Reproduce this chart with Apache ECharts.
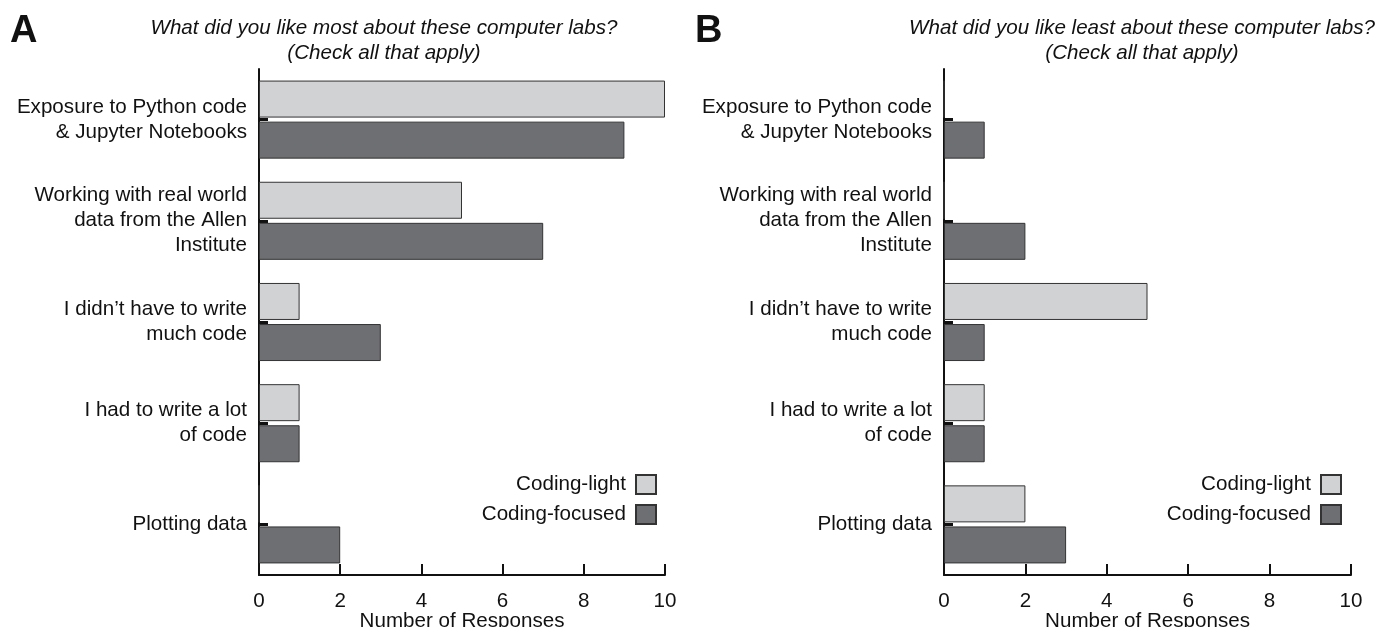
<!DOCTYPE html>
<html>
<head>
<meta charset="utf-8">
<script src="https://cdn.jsdelivr.net/npm/echarts@6/dist/echarts.min.js"></script>
<style>
html,body{margin:0;padding:0;background:#fff;}
#c{width:1379px;height:627px;}
</style>
</head>
<body>
<div id="c"></div>
<script>
var categories = [
  'Exposure to Python code\n& Jupyter Notebooks',
  'Working with real world\ndata from the Allen\nInstitute',
  'I didn\u2019t have to write\nmuch code',
  'I had to write a lot\nof code',
  'Plotting data'
];
var seriesNames = ['Coding-light', 'Coding-focused'];
var likedMostLight = [10, 5, 1, 1, 0];
var likedMostFocused = [9, 7, 3, 1, 2];
var likedLeastLight = [0, 0, 5, 1, 2];
var likedLeastFocused = [1, 2, 1, 1, 3];
var xTicks = [0, 2, 4, 6, 8, 10];
var titleA = 'What did you like most about these computer labs?\n(Check all that apply)';
var titleB = 'What did you like least about these computer labs?\n(Check all that apply)';
var xName = 'Number of Responses';

var FONT = '"Liberation Sans", Arial, Helvetica, sans-serif';
var FS = 20.6;
var LIGHT = '#d1d2d4';
var DARK = '#6e6f72';

function xAxisDef(gi) {
  return {
    gridIndex: gi, type: 'value', min: xTicks[0], max: xTicks[xTicks.length - 1], interval: xTicks[1] - xTicks[0],
    name: xName, nameLocation: 'middle', nameGap: 36, nameMoveOverlap: false,
    nameTextStyle: {fontFamily: FONT, fontSize: FS, color: '#111'},
    axisLine: {show: true, lineStyle: {color: '#111', width: 2}},
    axisTick: {show: true, inside: true, length: 11, lineStyle: {color: '#111', width: 2}},
    axisLabel: {fontFamily: FONT, fontSize: FS, color: '#111', margin: 16},
    splitLine: {show: false}
  };
}
function yAxisDef(gi) {
  return {
    gridIndex: gi, type: 'category', data: categories, inverse: true,
    axisLine: {show: true, lineStyle: {color: '#111', width: 2}},
    axisTick: {show: true, inside: true, alignWithLabel: true, length: 9, lineStyle: {color: '#111', width: 3}},
    axisLabel: {fontFamily: FONT, fontSize: FS, color: '#111', margin: 12, lineHeight: 25, align: 'right'}
  };
}
function barSeries(name, data, gi, color) {
  return {
    name: name, type: 'bar', xAxisIndex: gi, yAxisIndex: gi, data: data,
    barWidth: 37, barGap: '11%',
    itemStyle: {color: color, borderColor: '#333', borderWidth: 1},
    emphasis: {disabled: true}, animation: false
  };
}
function legendDef(right) {
  return {
    orient: 'vertical', right: right, top: 474, align: 'right', padding: 0,
    itemWidth: 20, itemHeight: 19, itemGap: 9, icon: 'rect', selectedMode: false,
    data: seriesNames,
    textStyle: {fontFamily: FONT, fontSize: FS, color: '#111', padding: [0, 5, 0, 0]}
  };
}

var chart = echarts.init(document.getElementById('c'), null, {renderer: 'canvas'});
chart.setOption({
  backgroundColor: '#fff',
  animation: false,
  title: [
    {text: 'A', left: 5, top: 8, textStyle: {fontFamily: FONT, fontSize: 38, fontWeight: 'bold', color: '#111'}},
    {text: 'B', left: 690, top: 8, textStyle: {fontFamily: FONT, fontSize: 38, fontWeight: 'bold', color: '#111'}},
    {text: titleA, left: 379, top: 11, textAlign: 'center', textStyle: {fontFamily: FONT, fontSize: FS, fontStyle: 'italic', fontWeight: 'normal', color: '#111', lineHeight: 25, align: 'center'}},
    {text: titleB, left: 1137, top: 11, textAlign: 'center', textStyle: {fontFamily: FONT, fontSize: FS, fontStyle: 'italic', fontWeight: 'normal', color: '#111', lineHeight: 25, align: 'center'}}
  ],
  legend: [legendDef(722), legendDef(37)],
  grid: [
    {left: 259, width: 406, top: 69, height: 506, outerBoundsMode: 'none', containLabel: false},
    {left: 944, width: 407, top: 69, height: 506, outerBoundsMode: 'none', containLabel: false}
  ],
  xAxis: [xAxisDef(0), xAxisDef(1)],
  yAxis: [yAxisDef(0), yAxisDef(1)],
  series: [
    barSeries(seriesNames[0], likedMostLight, 0, LIGHT),
    barSeries(seriesNames[1], likedMostFocused, 0, DARK),
    barSeries(seriesNames[0], likedLeastLight, 1, LIGHT),
    barSeries(seriesNames[1], likedLeastFocused, 1, DARK)
  ]
});
</script>
</body>
</html>
